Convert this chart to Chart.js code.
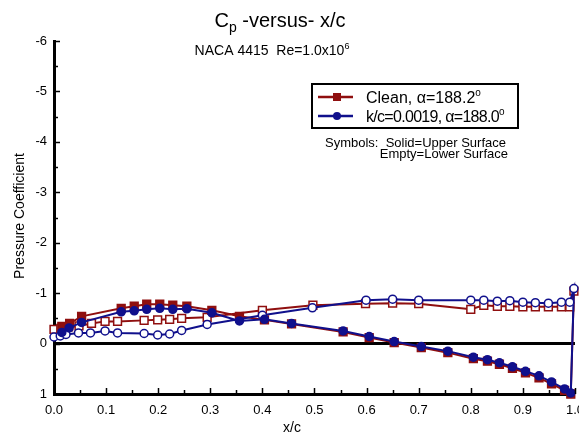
<!DOCTYPE html>
<html><head><meta charset="utf-8">
<script src="https://cdn.jsdelivr.net/npm/chart.js@4/dist/chart.umd.min.js"></script>
<style>
html,body{margin:0;padding:0;overflow:hidden;background:#fff;width:579px;height:433px}
#wrap{width:593px;height:433px}
</style>
</head><body><div id="wrap"><canvas id="c" width="593" height="433"></canvas></div>
<script>
const FONT = '"Liberation Sans", Arial, Helvetica, sans-serif';

// ---- data ----
const seriesLabels = ['Clean, \u03B1=188.2', 'k/c=0.0019, \u03B1=188.0'];
const seriesColors = ['#8f0f0f', '#10108c'];

const cleanUpperX  = [0.015,0.030,0.053,0.129,0.154,0.178,0.203,0.228,0.255,0.303,0.356,0.404,0.456,0.555,0.605,0.653,0.705,0.756,0.805,0.832,0.855,0.880,0.905,0.931,0.955,0.980,0.992];
const cleanUpperCp = [-0.34,-0.40,-0.54,-0.70,-0.74,-0.78,-0.78,-0.76,-0.74,-0.66,-0.54,-0.47,-0.39,-0.23,-0.12,-0.02,0.08,0.18,0.30,0.35,0.41,0.49,0.58,0.68,0.80,0.93,1.00];
const cleanLowerX  = [0,0.013,0.028,0.048,0.072,0.098,0.122,0.173,0.199,0.222,0.245,0.294,0.400,0.497,0.598,0.650,0.700,0.800,0.825,0.851,0.875,0.900,0.924,0.949,0.974,0.990,0.998];
const cleanLowerCp = [-0.28,-0.30,-0.33,-0.35,-0.40,-0.44,-0.44,-0.46,-0.47,-0.48,-0.50,-0.52,-0.66,-0.76,-0.79,-0.80,-0.79,-0.68,-0.76,-0.74,-0.74,-0.73,-0.73,-0.73,-0.73,-0.73,-1.04];

const roughUpperX  = [0.015,0.029,0.053,0.129,0.154,0.178,0.203,0.228,0.255,0.303,0.356,0.404,0.456,0.555,0.605,0.653,0.705,0.756,0.805,0.832,0.855,0.880,0.905,0.931,0.955,0.980,0.992];
const roughUpperCp = [-0.22,-0.31,-0.42,-0.63,-0.65,-0.68,-0.70,-0.68,-0.69,-0.61,-0.45,-0.48,-0.40,-0.25,-0.14,-0.04,0.06,0.15,0.27,0.32,0.38,0.46,0.55,0.64,0.76,0.90,0.98];
const roughLowerX  = [0,0.012,0.023,0.047,0.070,0.098,0.122,0.173,0.199,0.222,0.245,0.294,0.400,0.496,0.599,0.650,0.700,0.800,0.825,0.851,0.875,0.900,0.924,0.949,0.974,0.990,0.998];
const roughLowerCp = [-0.13,-0.15,-0.18,-0.21,-0.21,-0.25,-0.21,-0.20,-0.17,-0.19,-0.26,-0.38,-0.56,-0.71,-0.86,-0.88,-0.86,-0.86,-0.86,-0.84,-0.85,-0.82,-0.81,-0.80,-0.82,-0.82,-1.09];

const xTickMin = 0, xTickMax = 1, xTickStep = 0.1;
const yTickMin = -6, yTickMax = 1, yTickStep = 1;

// path: lower surface LE->TE, then upper surface TE->LE
function buildPath(lx, ly, ux, uy, color) {
  const pts = [], bg = [];
  for (let i = 0; i < lx.length; i++) { pts.push({x: lx[i], y: ly[i]}); bg.push('#ffffff'); }
  for (let i = ux.length - 1; i >= 0; i--) { pts.push({x: ux[i], y: uy[i]}); bg.push(color); }
  return {pts, bg};
}
const cleanPath = buildPath(cleanLowerX, cleanLowerCp, cleanUpperX, cleanUpperCp, seriesColors[0]);
const roughPath = buildPath(roughLowerX, roughLowerCp, roughUpperX, roughUpperCp, seriesColors[1]);

function drawRich(ctx, parts, x, y, align, spacing) {
  ctx.letterSpacing = (spacing || 0) + 'px';
  let total = 0;
  parts.forEach(p => { ctx.font = p.size + 'px ' + FONT; p.w = ctx.measureText(p.t).width; total += p.w; });
  let cx = align === 'center' ? x - total / 2 : (align === 'right' ? x - total : x);
  ctx.textAlign = 'left';
  parts.forEach(p => { ctx.font = p.size + 'px ' + FONT; ctx.fillText(p.t, cx, y + (p.dy || 0)); cx += p.w; });
  ctx.letterSpacing = '0px';
}

const decor = {
  id: 'decor',
  afterDraw(chart) {
    const ctx = chart.ctx, xs = chart.scales.x, ys = chart.scales.y;
    const L = chart.chartArea.left, B = chart.chartArea.bottom;
    ctx.save();
    ctx.strokeStyle = '#000'; ctx.lineWidth = 1.5;
    for (let v = yTickMin; v <= yTickMax + 1e-9; v += 0.5) {
      const py = Math.round(ys.getPixelForValue(v)) + 0.5;
      const major = Math.abs(v - Math.round(v)) < 1e-6;
      ctx.beginPath(); ctx.moveTo(L, py); ctx.lineTo(L + (major ? 6 : 4), py); ctx.stroke();
    }
    for (let k = 0; k <= 20; k++) {
      const v = k * 0.05;
      const px = Math.round(xs.getPixelForValue(v)) + 0.5;
      const major = k % 2 === 0;
      ctx.beginPath(); ctx.moveTo(px, B); ctx.lineTo(px, B - (major ? 6 : 4)); ctx.stroke();
    }
    ctx.fillStyle = '#000';
    ctx.textBaseline = 'alphabetic';
    drawRich(ctx, [{t:'C', size:20}, {t:'p', size:14, dy:5}, {t:' -versus- x/c', size:20}], 280, 27, 'center');
    drawRich(ctx, [{t:'NACA 4415  Re=1.0x10', size:14}, {t:'6', size:9, dy:-6}], 272, 55, 'center');
    ctx.font = '14px ' + FONT;
    ctx.textAlign = 'center';
    ctx.fillText('x/c', 292, 432);
    ctx.save();
    ctx.translate(20, 216); ctx.rotate(-Math.PI / 2);
    ctx.textBaseline = 'middle';
    ctx.fillText('Pressure Coefficient', 0, 0);
    ctx.restore();
    // legend
    ctx.fillStyle = '#fff';
    ctx.fillRect(312, 84, 206, 44);
    ctx.strokeStyle = '#000'; ctx.lineWidth = 2;
    ctx.strokeRect(312, 84, 206, 44);
    const rows = [97, 116];
    const spacings = [0, -0.7];
    chart.data.datasets.forEach((ds, i) => {
      const y = rows[i];
      ctx.strokeStyle = ds.borderColor; ctx.lineWidth = 2.5;
      ctx.beginPath(); ctx.moveTo(318, y); ctx.lineTo(353, y); ctx.stroke();
      ctx.fillStyle = ds.borderColor;
      if (ds.pointStyle === 'rect') { ctx.fillRect(333, y - 4, 8, 8); }
      else { ctx.beginPath(); ctx.arc(337, y, 4, 0, Math.PI * 2); ctx.fill(); }
      ctx.fillStyle = '#000';
      drawRich(ctx, [{t: ds.label, size:16}, {t:'o', size:10, dy:-7}], 366, y + 6, 'left', spacings[i]);
    });
    ctx.fillStyle = '#000';
    ctx.font = '13px ' + FONT;
    ctx.textAlign = 'right';
    ctx.fillText('Symbols:  Solid=Upper Surface', 506, 147);
    ctx.fillText('Empty=Lower Surface', 508, 158);
    ctx.restore();
  }
};

new Chart(document.getElementById('c'), {
  type: 'line',
  data: {
    datasets: [
      { label: seriesLabels[0], data: cleanPath.pts, borderColor: seriesColors[0], pointBackgroundColor: cleanPath.bg,
        pointBorderColor: seriesColors[0], pointStyle: 'rect', pointRadius: 5.5, pointBorderWidth: 1.5, borderWidth: 2,
        tension: 0, clip: false, order: 1 },
      { label: seriesLabels[1], data: roughPath.pts, borderColor: seriesColors[1], pointBackgroundColor: roughPath.bg,
        pointBorderColor: seriesColors[1], pointStyle: 'circle', pointRadius: 4, pointBorderWidth: 1.5, borderWidth: 2,
        tension: 0, clip: false, order: 0 }
    ]
  },
  options: {
    responsive: false,
    animation: false,
    events: [],
    layout: { padding: { left: 0, top: 41, right: 0, bottom: 0 } },
    plugins: { legend: { display: false }, tooltip: { enabled: false }, title: { display: false } },
    scales: {
      x: {
        type: 'linear', min: xTickMin, max: xTickMax,
        ticks: { stepSize: xTickStep, autoSkip: false, maxRotation: 0, padding: 9, color: '#000',
                 font: { family: FONT, size: 13 }, callback: v => Number(v).toFixed(1) },
        grid: { display: true, drawOnChartArea: false, drawTicks: false, color: 'rgba(0,0,0,0)' },
        border: { display: true, color: '#000', width: 3 },
        afterFit: s => { s.height = 39; }
      },
      y: {
        type: 'linear', min: yTickMin, max: yTickMax, reverse: true,
        ticks: { stepSize: yTickStep, autoSkip: false, padding: 7, color: '#000',
                 font: { family: FONT, size: 13 }, callback: v => String(v) },
        grid: { display: true, drawTicks: false, color: c => (c.tick && c.tick.value === 0) ? '#000' : 'rgba(0,0,0,0)', lineWidth: 3 },
        border: { display: true, color: '#000', width: 3 },
        afterFit: s => { s.width = 54; }
      }
    }
  },
  plugins: [decor]
});
</script>
</body></html>
